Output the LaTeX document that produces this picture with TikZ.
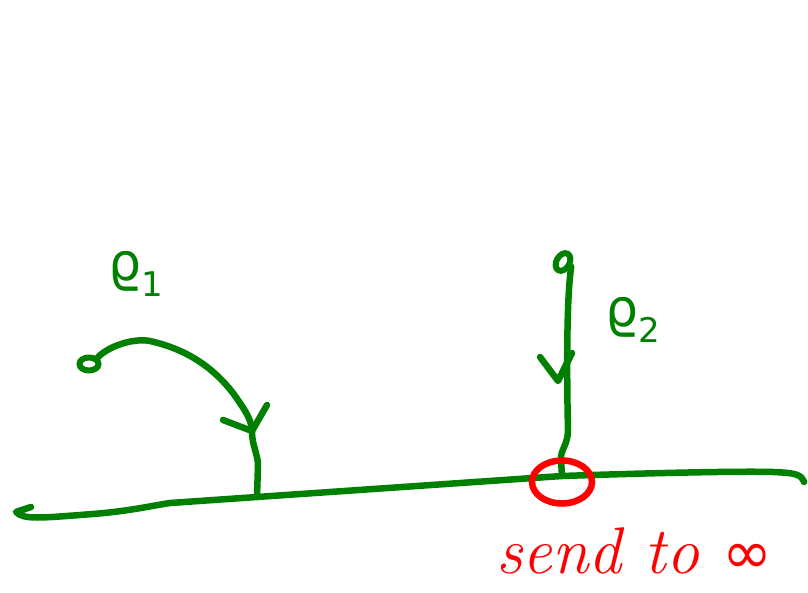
\documentclass[tikz,border=0pt]{standalone}
\usepackage{fontspec}
\newfontfamily\symfont{DejaVu Sans}
\usetikzlibrary{shapes.geometric}
\definecolor{penGreen}{RGB}{0,128,0}
\definecolor{penRed}{RGB}{255,0,0}
\newcommand{\sublabel}[1]{\raisebox{-0.3em}{\fontsize{34}{36}\selectfont #1}}
\begin{document}
\begin{tikzpicture}[x=1pt,y=-1pt,
  pen/.style={draw=penGreen, line width=6.5pt, line cap=round, line join=round},
  startdot/.style={ellipse, draw=penGreen, line width=6pt, minimum width=19pt, minimum height=13pt, inner sep=0pt},
  glabel/.style={text=penGreen, font=\symfont\fontsize{52}{58}\selectfont, inner sep=0pt},
  rlabel/.style={text=penRed, font=\fontsize{66}{72}\selectfont\itshape, inner sep=0pt}]
\useasboundingbox (0,0) rectangle (808,593);
% boundary line
\coordinate (f1) at (257,497);
\coordinate (f2) at (562,476);
\draw[pen] (31,507) -- (16,512) .. controls (24,520) and (40,518) .. (93,514)
  .. controls (130,511) and (150,506) .. (170,503) -- (f1) -- (f2)
  .. controls (650,473) and (740,471) .. (773,472) .. controls (795,473) and (801,474) .. (804,482);
% gamma_1
\node[startdot] (s1) at (89,364) {};
\draw[pen] (s1.north east) .. controls (110,345) and (135,338) .. (150,341)
  .. controls (190,350) and (215,370) .. (233,393)
  .. controls (245,410) and (252,420) .. (252,432)
  .. controls (252,445) and (258,455) .. (258,465) -- (f1);
\coordinate (t1) at (252,431);
\draw[pen] (223,420) -- (t1) -- (267,405);
\node[glabel] (g1) at (136,274) {ϱ\sublabel{1}};
% gamma_2
\node[startdot, rotate=60] (s2) at (563,262) {};
\draw[pen] (s2.south) .. controls (566,300) and (567,390) .. (568,430)
  .. controls (568,445) and (560,450) .. (561,460) -- (f2);
\coordinate (t2) at (558,381);
\draw[pen] (540,357) -- (t2) -- (572,353);
\node[glabel] (g2) at (633,320) {ϱ\sublabel{2}};
% red circle and label
\node[draw=penRed, line width=6.5pt, ellipse, minimum width=60pt, minimum height=43pt, inner sep=0pt] (ring) at (562,482) {};
\node[rlabel, anchor=base west] (send) at (496,573) {send to {\upshape\symfont\fontsize{60}{66}\selectfont ∞}};
\end{tikzpicture}
\end{document}
